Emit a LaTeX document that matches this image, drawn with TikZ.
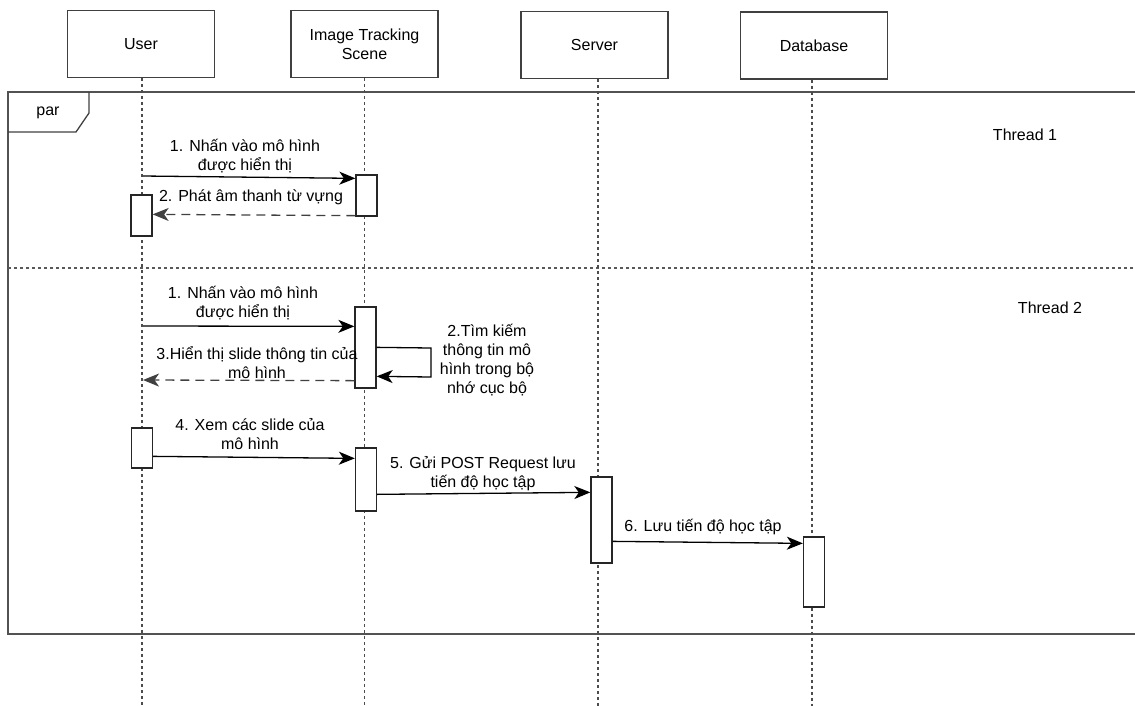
\documentclass[tikz,border=0pt]{standalone}
\usepackage{fontspec}
\setmainfont{Liberation Sans}
\usetikzlibrary{arrows.meta}
\begin{document}
\begin{tikzpicture}[x=1pt,y=-1pt,
  every node/.style={font=\fontsize{16}{19}\selectfont, text=black},
  actor/.style={draw=black!75, line width=1.4pt, minimum width=147pt, minimum height=67pt,
                inner sep=0pt, align=center, fill=white},
  act/.style={draw=black!85, line width=1.3pt, minimum width=21pt, inner sep=0pt, fill=white},
  life/.style={draw=black!70, line width=1.1pt, dash pattern=on 3pt off 3pt},
  tip/.style={-{Stealth[length=16pt,width=13pt,inset=4.5pt]}},
  msg/.style={draw=black, line width=1.3pt, tip},
  ret/.style={draw=black!75, line width=1.3pt, dash pattern=on 9pt off 6pt, tip},
  lbl/.style={align=center, inner sep=0pt},
  framecol/.style={draw=black!68, line width=2pt},
]
\useasboundingbox (0,0) rectangle (1135,705);

% combined fragment "par"
\draw[framecol] (1140,92) -- (8,92) -- (8,634) -- (1140,634);
\draw[draw=black!75, line width=1.3pt] (8,132) -- (76,132) -- (89,113) -- (89,92);
\node (par) at (48,113) {par};
\draw[draw=black!65, line width=1.1pt, dash pattern=on 3pt off 3pt] (8,268) -- (1140,268);
\node (t1) at (1025,135) {Thread 1};
\node (t2) at (1050,308) {Thread 2};

% participants
\node[actor] (user) at (141,44) {User};
\node[actor] (its)  at (364.5,44) {Image Tracking\\Scene};
\node[actor] (srv)  at (594.5,45) {Server};
\node[actor] (db)   at (814,45.5) {Database};

% lifelines
\draw[life] ([xshift=1pt]user.south) -- ++(0,627);
\draw[life] (its.south) -- ++(0,627);
\draw[life] ([xshift=3.5pt]srv.south) -- ++(0,627);
\draw[life] ([xshift=-2pt]db.south) -- ++(0,627);

% activation bars
\node[act, minimum height=41pt] (a1) at (366.5,195.5) {};
\node[act, minimum height=41pt] (u1) at (141.5,215.5) {};
\node[act, minimum height=81pt] (a2) at (365.5,347.5) {};
\node[act, minimum height=40pt] (u2) at (142,448) {};
\node[act, minimum height=63pt] (a3) at (366,479.5) {};
\node[act, minimum height=86pt] (s1) at (601.5,520) {};
\node[act, minimum height=70pt] (d1) at (814,572) {};

% free ends on the User lifeline and the self-call corner points
\coordinate (p1) at (143,176);
\coordinate (p2) at (143,326);
\coordinate (p3) at (143,380);
\coordinate (p4) at (431,348);
\coordinate (p5) at (431,377);

% thread 1
\draw[msg] (p1) -- ([yshift=-4pt]a1.north west);
\node[lbl] (l1) at (245,156.5) {1. Nhấn vào mô hình\\được hiển thị};
\draw[ret] ([yshift=1pt]a1.south west) -- ([yshift=-20pt]u1.north east);
\node[lbl] (l2) at (251,197) {2. Phát âm thanh từ vựng};

% thread 2
\draw[msg] (p2) -- ([yshift=-20pt]a2.north west);
\node[lbl] (l3) at (243,303) {1. Nhấn vào mô hình\\được hiển thị};
\draw[msg] ([yshift=-41pt]a2.north east) -- (p4) -- (p5) -- ([yshift=-70pt]a2.north east);
\node[lbl] (l4) at (487,360.5) {2.Tìm kiếm\\thông tin mô\\hình trong bộ\\nhớ cục bộ};
\draw[ret] ([yshift=8pt]a2.south west) -- (p3);
\node[lbl] (l5) at (257,362.5) {3.Hiển thị slide thông tin của\\mô hình};

\draw[msg] ([yshift=-29pt]u2.north east) -- ([yshift=-11pt]a3.north west);
\node[lbl] (l6) at (250,434) {4. Xem các slide của\\mô hình};
\draw[msg] ([yshift=-47pt]a3.north east) -- ([yshift=-16pt]s1.north west);
\node[lbl] (l7) at (483,474) {5. Gửi POST Request lưu\\tiến độ học tập};
\draw[msg] ([yshift=-65pt]s1.north east) -- ([yshift=-7pt]d1.north west);
\node[lbl] (l8) at (703,527) {6. Lưu tiến độ học tập};
\end{tikzpicture}
\end{document}
